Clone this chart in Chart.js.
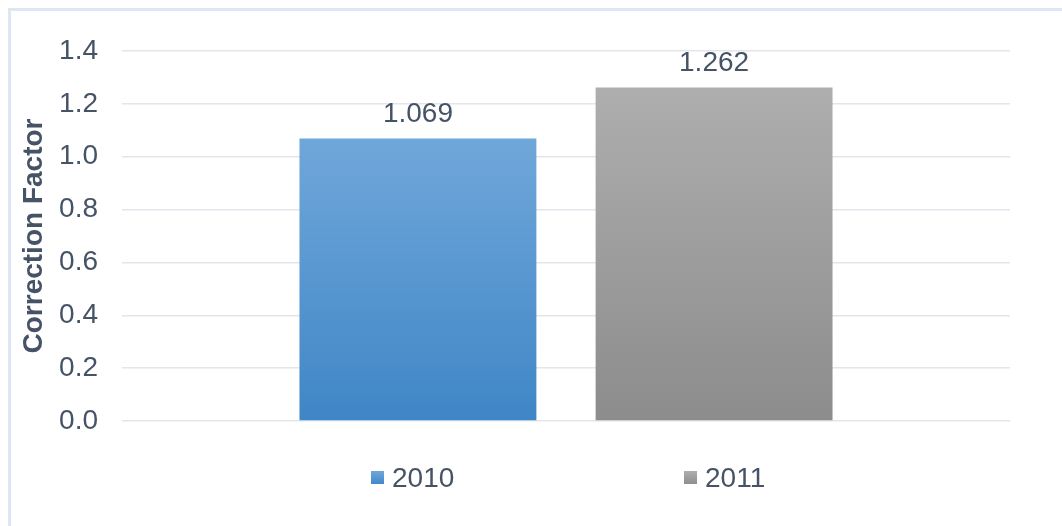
<!DOCTYPE html>
<html>
<head>
<meta charset="utf-8">
<script src="https://cdn.jsdelivr.net/npm/chart.js@4.4.1/dist/chart.umd.min.js"></script>
<style>
  html, body { margin: 0; padding: 0; background: #fff; }
  #wrap { position: relative; width: 1062px; height: 526px; overflow: hidden; }
  #frame { position: absolute; left: 8px; top: 8px; width: 1100px; height: 600px;
           border-top: 3px solid #dde7f3; border-left: 3px solid #dde7f3; }
  #chart { position: absolute; left: 0; top: 0; }
</style>
</head>
<body>
<div id="wrap">
  <div id="frame"></div>
  <canvas id="chart" width="1062" height="526"></canvas>
</div>
<script>
// values
var categories = [''];
var seriesNames = ['2010', '2011'];
var values2010 = [1.069];
var values2011 = [1.262];
var yTicks = [0, 0.2, 0.4, 0.6, 0.8, 1.0, 1.2, 1.4];

var textColor = '#465366';
var fontFamily = '"Liberation Sans", Arial, sans-serif';

// top / bottom colour of each bar gradient
var barColors = [
    ['#70a7da', '#3f86c6'],
    ['#aeaeae', '#8c8c8c']
];

function barGradient(i) {
    return function (context) {
        var chart = context.chart;
        if (!chart.chartArea || context.raw === undefined) return barColors[i][0];
        var y = chart.scales.y;
        var g = chart.ctx.createLinearGradient(0, y.getPixelForValue(context.raw), 0, y.getPixelForValue(0));
        g.addColorStop(0, barColors[i][0]);
        g.addColorStop(1, barColors[i][1]);
        return g;
    };
}

// value labels above the bars
var valueLabels = {
    id: 'valueLabels',
    afterDatasetsDraw: function (chart) {
        var ctx = chart.ctx;
        ctx.save();
        ctx.font = '28px ' + fontFamily;
        ctx.fillStyle = textColor;
        ctx.textAlign = 'center';
        ctx.textBaseline = 'alphabetic';
        chart.data.datasets.forEach(function (ds, i) {
            chart.getDatasetMeta(i).data.forEach(function (bar, j) {
                ctx.fillText(ds.data[j].toFixed(3), bar.x, bar.y - 16);
            });
        });
        ctx.restore();
    }
};

// legend drawn below the plot, spaced like the original
var bottomLegend = {
    id: 'bottomLegend',
    afterDraw: function (chart) {
        var ctx = chart.ctx;
        var area = chart.chartArea;
        var mid = (area.left + area.right) / 2;
        var offsets = [-195, 118];
        var yc = area.bottom + 57;
        ctx.save();
        ctx.font = '28px ' + fontFamily;
        ctx.textBaseline = 'middle';
        ctx.textAlign = 'left';
        chart.data.datasets.forEach(function (ds, i) {
            var x = mid + offsets[i];
            var g = ctx.createLinearGradient(0, yc - 7, 0, yc + 7);
            g.addColorStop(0, barColors[i][0]);
            g.addColorStop(1, barColors[i][1]);
            ctx.fillStyle = g;
            ctx.fillRect(x, yc - 7, 13, 13);
            ctx.fillStyle = textColor;
            ctx.fillText(ds.label, x + 21, yc + 1);
        });
        ctx.restore();
    }
};

var ctx = document.getElementById('chart').getContext('2d');
var chart = new Chart(ctx, {
    type: 'bar',
    data: {
        labels: categories,
        datasets: [{
            label: seriesNames[0],
            data: values2010,
            backgroundColor: barGradient(0)
        }, {
            label: seriesNames[1],
            data: values2011,
            backgroundColor: barGradient(1)
        }]
    },
    options: {
        responsive: false,
        animation: false,
        events: [],
        barPercentage: 0.8,
        categoryPercentage: 0.667,
        layout: {
            padding: { left: 17, right: 52, top: 51, bottom: 105 }
        },
        plugins: {
            legend: { display: false },
            tooltip: { enabled: false }
        },
        scales: {
            x: {
                display: false
            },
            y: {
                min: 0,
                max: 1.4,
                afterBuildTicks: function (axis) {
                    axis.ticks = yTicks.map(function (v) { return { value: v }; });
                },
                afterFit: function (axis) {
                    axis.width = 105;
                },
                border: { display: false },
                grid: {
                    color: '#e3e5ec',
                    lineWidth: 1.5,
                    drawTicks: false
                },
                ticks: {
                    padding: 24,
                    color: textColor,
                    font: { family: fontFamily, size: 28 },
                    callback: function (v) { return v.toFixed(1); }
                },
                title: {
                    display: true,
                    text: 'Correction Factor',
                    color: textColor,
                    font: { family: fontFamily, size: 28, weight: 'bold' },
                    padding: { top: 0, bottom: 0 }
                }
            }
        }
    },
    plugins: [valueLabels, bottomLegend]
});
</script>
</body>
</html>
